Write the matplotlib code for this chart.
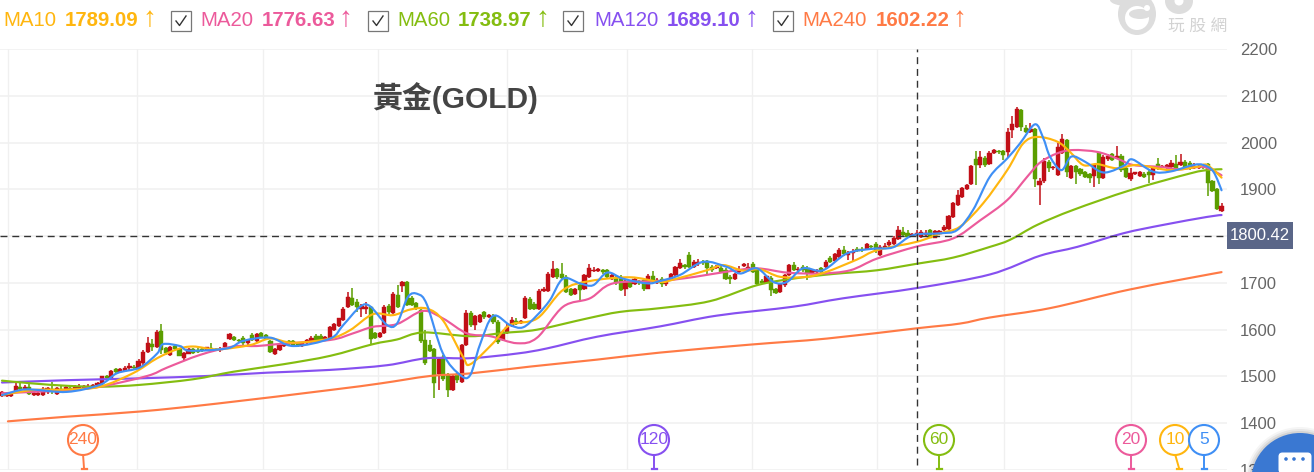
import numpy as np
import matplotlib
matplotlib.use("Agg")
import matplotlib.pyplot as plt
from matplotlib.patches import Circle, Ellipse, FancyBboxPatch, Rectangle, PathPatch
from matplotlib.path import Path
from matplotlib.lines import Line2D
from matplotlib.transforms import IdentityTransform

# candles, one value per bar
opens = [
    1458,1459,1459,1468,1477,1473,1478,1461,1461,1460, 1466,1474,1463,1474,1472,1475,1470,1476,1476,1476,
    1478,1481,1484,1500,1497,1516,1510,1512,1517,1520, 1518,1528,1553,1570,1563,1598,1560,1546,1566,1558,
    1539,1549,1558,1557,1559,1557,1560,1559,1556,1562, 1581,1585,1578,1583,1571,1588,1576,1592,1588,1576,
    1549,1556,1565,1575,1576,1572,1565,1571,1574,1587, 1587,1578,1581,1600,1608,1620,1649,1667,1660,1645,
    1644,1648,1593,1585,1592,1650,1635,1675,1693,1701, 1668,1657,1642,1578,1567,1558,1505,1541,1503,1470,
    1506,1489,1567,1636,1610,1617,1638,1628,1630,1617, 1578,1593,1608,1618,1614,1624,1665,1655,1645,1683,
    1683,1713,1729,1720,1713,1686,1676,1695,1688,1712, 1725,1726,1727,1727,1708,1711,1713,1688,1702,1698,
    1704,1706,1688,1714,1700,1709,1697,1706,1717,1731, 1738,1759,1733,1740,1745,1747,1734,1732,1732,1727,
    1713,1709,1724,1736,1730,1741,1727,1704,1700,1711, 1686,1681,1695,1716,1738,1727,1734,1731,1722,1723,
    1731,1733,1754,1747,1756,1770,1759,1763,1773,1773, 1773,1778,1784,1759,1775,1780,1784,1794,1809,1806,
    1802,1803,1799,1802,1814,1797,1805,1812,1816,1841, 1866,1883,1900,1911,1965,1952,1966,1954,1977,1982,
    1982,1980,2027,2034,2069,2032,2023,2030,1909,1918, 1959,1945,1930,1977,2005,1925,1950,1943,1938,1932,
    1928,1977,1925,1964,1975,1966,1972,1946,1923,1932, 1928,1932,1938,1930,1955,1948,1948,1948,1955,1952,
    1959,1957,1945,1946,1951,1955,1918,1901,1854,
]
closes = [
    1466,1465,1462,1480,1474,1478,1463,1464,1465,1473, 1475,1468,1476,1472,1477,1473,1478,1478,1480,1480,
    1481,1487,1500,1497,1512,1510,1515,1518,1522,1518, 1533,1553,1572,1562,1596,1556,1550,1563,1559,1544,
    1551,1558,1551,1553,1556,1562,1556,1556,1559,1571, 1590,1578,1576,1571,1577,1578,1591,1585,1581,1553,
    1558,1567,1570,1570,1567,1565,1571,1578,1583,1578, 1578,1584,1605,1612,1624,1645,1669,1653,1649,1650,
    1649,1581,1583,1593,1649,1637,1677,1648,1702,1652, 1652,1647,1576,1528,1555,1485,1538,1494,1470,1501,
    1492,1567,1635,1610,1629,1631,1628,1631,1617,1574, 1596,1606,1620,1612,1618,1668,1645,1645,1683,1688,
    1720,1729,1712,1711,1681,1674,1688,1685,1717,1731, 1727,1729,1724,1712,1716,1700,1685,1704,1692,1709,
    1699,1686,1714,1702,1707,1697,1707,1718,1733,1743, 1733,1733,1745,1745,1742,1731,1727,1735,1724,1709,
    1709,1720,1727,1741,1733,1724,1697,1700,1714,1684, 1679,1697,1716,1738,1727,1730,1727,1722,1728,1725,
    1724,1745,1745,1761,1771,1761,1764,1766,1768,1770, 1784,1777,1770,1777,1778,1788,1797,1813,1802,1799,
    1804,1806,1809,1807,1797,1811,1810,1820,1844,1870, 1888,1902,1909,1950,1951,1970,1952,1977,1985,1980,
    1973,2022,2039,2071,2034,2023,2030,1922,1918,1960, 1945,1947,1991,2007,1938,1950,1938,1932,1927,1924,
    1952,1925,1970,1972,1963,1971,1941,1927,1934,1936, 1937,1927,1930,1946,1945,1950,1951,1957,1945,1959,
    1948,1945,1950,1950,1947,1913,1897,1858,1864,
]
highs = [
    1468,1467,1463,1485,1488,1482,1484,1466,1466,1478, 1478,1489,1478,1479,1480,1482,1481,1484,1482,1484,
    1483,1488,1502,1504,1514,1518,1518,1522,1528,1525, 1537,1556,1585,1581,1600,1613,1563,1566,1570,1560,
    1553,1560,1561,1560,1562,1564,1572,1561,1562,1573, 1593,1587,1580,1587,1580,1592,1593,1595,1590,1578,
    1560,1570,1572,1577,1578,1574,1573,1581,1586,1590, 1590,1586,1608,1615,1626,1648,1680,1690,1665,1655,
    1660,1650,1595,1596,1652,1655,1680,1695,1704,1703, 1672,1660,1645,1600,1577,1560,1540,1545,1508,1503,
    1510,1570,1642,1640,1632,1633,1640,1634,1634,1620, 1600,1612,1628,1624,1621,1671,1670,1660,1686,1692,
    1724,1747,1732,1742,1716,1690,1690,1700,1720,1741, 1735,1732,1730,1730,1720,1714,1716,1707,1705,1712,
    1707,1708,1719,1726,1710,1712,1708,1721,1736,1752, 1741,1767,1748,1752,1749,1750,1738,1738,1736,1732,
    1716,1722,1737,1743,1743,1744,1730,1708,1716,1714, 1689,1700,1718,1741,1745,1734,1738,1736,1730,1729,
    1734,1748,1757,1764,1774,1778,1768,1772,1776,1776, 1786,1781,1788,1780,1785,1791,1800,1821,1819,1812,
    1806,1813,1812,1814,1815,1813,1812,1824,1846,1873, 1898,1906,1912,1952,1982,1982,1971,1982,1986,1984,
    1985,2031,2056,2075,2072,2037,2042,2032,1925,1966, 1963,1950,2000,2018,2008,1953,1953,1946,1940,1935,
    1955,1979,1973,1976,1977,1992,1975,1948,1945,1938, 1940,1936,1941,1950,1966,1953,1955,1962,1973,1975,
    1962,1960,1956,1954,1954,1957,1920,1903,1870,
]
lows = [
    1455,1456,1457,1466,1470,1470,1460,1459,1459,1459, 1462,1462,1461,1470,1468,1472,1469,1473,1472,1473,
    1476,1478,1482,1492,1494,1505,1508,1510,1512,1515, 1515,1525,1550,1555,1560,1548,1545,1544,1556,1543,
    1535,1547,1549,1551,1553,1555,1553,1554,1553,1558, 1578,1575,1573,1566,1568,1575,1572,1583,1578,1551,
    1546,1554,1562,1566,1564,1562,1562,1569,1572,1576, 1576,1575,1579,1598,1606,1618,1647,1650,1638,1628,
    1634,1569,1580,1582,1590,1634,1633,1646,1681,1650, 1650,1643,1571,1525,1553,1453,1470,1490,1457,1468,
    1485,1486,1565,1605,1600,1615,1622,1625,1613,1570, 1575,1590,1605,1610,1612,1622,1643,1642,1643,1680,
    1680,1710,1708,1708,1678,1672,1674,1663,1685,1710, 1723,1724,1720,1708,1706,1696,1682,1672,1690,1695,
    1696,1683,1686,1700,1698,1692,1694,1704,1715,1729, 1730,1731,1731,1737,1738,1720,1724,1729,1722,1706,
    1697,1707,1722,1734,1727,1722,1694,1698,1698,1672, 1677,1678,1692,1714,1725,1722,1724,1706,1719,1719,
    1720,1730,1743,1745,1754,1758,1750,1745,1765,1767, 1771,1772,1763,1757,1772,1777,1780,1791,1800,1797,
    1799,1800,1796,1800,1795,1795,1803,1810,1814,1839, 1864,1881,1898,1909,1909,1945,1948,1952,1976,1976,
    1962,1970,2010,2032,2024,2020,2020,1905,1866,1914, 1938,1942,1928,1975,1927,1923,1911,1929,1925,1914,
    1905,1911,1922,1960,1960,1964,1938,1925,1918,1930, 1926,1924,1913,1921,1942,1946,1944,1946,1943,1950,
    1945,1942,1943,1944,1944,1886,1895,1856,1852,
]

# moving averages, bar number then price
ma5_bar = [0,4,6.8,14.3,21.5,25.3,30.3,34.1,35.4,39.1,41.3,49.5,53,58.9,64,72.1,75,78.7,80.9,84.6,86.8,89.2,91.4,93.4,96.9,100.7,102.9,105,107.9,111.6,114.5,117.6,120.4,123.3,127,129.9,133,136.5,141.8,144.6,149,154.1,159.3,162.2,165.9,169.5,172.5,176,180.4,185.7,191.4,195.8,200.2,206.2,209.9,213.4,217.1,220.9,223.7,227,228.8,230.3,232.8,235,238,241.3,243.5,246.8,248.4,252.9,256.7,261.8,264,266.2,268]
ma5_val = [1460,1471,1472,1467,1482,1507,1519,1549,1569,1565,1555,1560,1576,1583,1565,1581,1610,1649,1650,1610,1613,1670,1676,1653,1549,1503,1503,1567,1629,1610,1605,1631,1663,1709,1699,1695,1722,1709,1699,1704,1717,1745,1734,1720,1731,1702,1702,1731,1727,1763,1773,1776,1802,1806,1813,1856,1927,1966,1998,2039,2010,1970,1941,1970,1959,1938,1938,1952,1964,1938,1938,1952,1952,1938,1898]
ma10_bar = [0,6.8,14.3,21.5,28.8,34.1,38.5,42,47.3,54.5,58.9,64,72.1,76.5,81.5,85.9,89.7,93.4,96.9,101.3,102.9,107.9,111.6,117.6,123.3,129.2,138,144.6,147.5,154.9,158.5,162.9,166.6,171,176.9,181.3,187.9,192.3,201.1,206.2,210.5,215.6,220.9,224.4,227.5,231.9,234.7,237.6,240.7,245,249.5,256.7,262.6,264.8,268]
ma10_val = [1460,1471,1472,1478,1507,1539,1558,1564,1558,1567,1581,1572,1581,1599,1633,1631,1643,1645,1620,1542,1526,1571,1610,1624,1685,1704,1712,1702,1707,1727,1738,1726,1729,1713,1713,1724,1750,1770,1788,1806,1820,1870,1941,1998,2012,2002,1980,1952,1954,1945,1952,1941,1948,1952,1925]
ma20_bar = [0,6.8,14.3,21.5,31.9,36.3,43.5,50.8,56,60.4,72.1,77.1,81.5,86.8,92.5,96.9,102.2,107.3,113.2,117.6,123.3,129.2,134.3,144.6,152.3,159.3,165.9,172.5,179.8,186.4,192.3,201.1,209,215,220.9,225.3,228.1,231.9,235.4,240.7,245,248.6,254.5,258.9,264,268]
ma20_val = [1464,1467,1471,1478,1501,1519,1546,1564,1565,1569,1578,1592,1606,1612,1640,1624,1592,1586,1571,1583,1649,1667,1699,1704,1713,1724,1731,1722,1720,1727,1752,1778,1795,1834,1877,1927,1957,1977,1984,1980,1966,1952,1948,1943,1948,1930]
ma60_bar = [0,6.8,14.3,21.5,30.3,42,50.8,61.8,72.1,81.5,86.8,92.5,102.9,110.1,117.6,128.6,135.8,144.6,155.6,165.9,173.8,182.6,192.3,201.1,209,217.1,221.5,227.5,235.4,247.9,261.1,264.8,268]
ma60_val = [1491,1485,1480,1478,1482,1494,1510,1526,1544,1569,1579,1594,1586,1593,1600,1624,1638,1646,1661,1695,1709,1719,1727,1741,1754,1777,1792,1824,1856,1898,1934,1941,1943]
ma120_bar = [0,14.3,30.3,45.1,58.2,72.1,84.6,93.4,102.9,113.2,119.8,130.8,144.6,157.1,173.8,184.8,201.1,217.1,228.1,236.3,246.4,255.2,264.8,268]
ma120_val = [1487,1492,1496,1501,1508,1514,1524,1539,1539,1549,1560,1585,1607,1630,1649,1667,1689,1718,1758,1777,1806,1824,1841,1845]
ma240_bar = [1.3,14.3,30.3,47.3,72.1,83.1,94.1,102.9,116,130.8,144.6,164.4,181.3,201.1,210.5,217.1,230.3,247.9,268]
ma240_val = [1404,1414,1425,1442,1471,1485,1501,1506.5,1521,1536,1551,1568,1581,1603,1613,1626,1646,1686,1723]

y_ticks = [1300,1400,1500,1600,1700,1800,1900,2000,2100,2200]
y_labels = ["1300","1400","1500","1600","1700","","1900","2000","2100","2200"]
grid_bars = [1.3,29.7,57.4,82.6,111,137.4,164.8,192.3,220.2,248.2]
cross_bar = 201.1
cross_price = 1800.42

legend_names = ["MA10","MA20","MA60","MA120","MA240"]
legend_values = ["1789.09","1776.63","1738.97","1689.10","1602.22"]
pin_labels = ["240","120","60","20","10","5"]

RED = "#c10f17"
GREEN = "#5b9e00"
C5 = "#3f8ff5"
C10 = "#ffb60f"
C20 = "#ec5a9b"
C60 = "#84bd10"
C120 = "#8650f0"
C240 = "#ff7a45"

W, H = 1314, 472
plt.rcParams['font.family'] = ['Liberation Sans', 'Noto Sans CJK TC', 'DejaVu Sans']

fig = plt.figure(figsize=(W / 100, H / 100), dpi=100)
ax = fig.add_axes([0, 2 / H, 1227 / W, 421 / H])
ax.set_xlim(-0.44, 269.2)
ax.set_ylim(1300, 2200)
for s in ax.spines.values():
    s.set_visible(False)

ax.yaxis.tick_right()
ax.set_yticks(y_ticks, y_labels)
ax.set_xticks([])
ax.tick_params(axis='y', length=0, pad=9.5, labelsize=12, labelcolor="#666666")
ax.grid(axis='y', color="#f0f0f0", lw=1.1, zorder=0)
for b in grid_bars:
    ax.axvline(b, color="#f0f0f0", lw=1.0, zorder=0)

# candles
x = np.arange(len(closes))
o = np.array(opens, dtype=float)
c = np.array(closes, dtype=float)
up = c >= o
colors = np.where(up, RED, GREEN)
ax.vlines(x, lows, highs, colors=colors, lw=1.1, zorder=2)
ax.bar(x, np.abs(c - o), bottom=np.minimum(o, c), width=0.92, color=colors, ec=colors, lw=0.3, zorder=3)


def smooth_line(bars, vals, col):
    # same look as the web chart: curve through the read points
    p = np.column_stack([bars, vals]).astype(float)
    tang = np.zeros_like(p)
    tang[1:-1] = (p[2:] - p[:-2]) / 6
    verts = [p[0]]
    codes = [Path.MOVETO]
    for i in range(len(p) - 1):
        verts += [p[i] + tang[i], p[i + 1] - tang[i + 1], p[i + 1]]
        codes += [Path.CURVE4] * 3
    ax.add_patch(PathPatch(Path(verts, codes), fill=False, ec=col, lw=1.55, zorder=4,
                           joinstyle='round', capstyle='round'))


# moving averages
smooth_line(ma240_bar, ma240_val, C240)
smooth_line(ma120_bar, ma120_val, C120)
smooth_line(ma60_bar, ma60_val, C60)
smooth_line(ma20_bar, ma20_val, C20)
smooth_line(ma10_bar, ma10_val, C10)
smooth_line(ma5_bar, ma5_val, C5)

# crosshair
ax.plot([cross_bar, cross_bar], [1310, 2200], color="#333333", lw=1.0, dashes=(5, 3.5), zorder=5)
ax.plot([-0.44, 269.2], [cross_price, cross_price], color="#333333", lw=1.0, dashes=(5, 3.5), zorder=5)

px = IdentityTransform()


def put_text(xp, yp, s, **kw):
    fig.text(xp, H - yp, s, transform=px, va=kw.pop('va', 'center'), **kw)


def put(patch):
    patch.set_transform(px)
    fig.add_artist(patch)


# crosshair price box
put(Rectangle((1227, H - 249), 66, 27, fc="#5a6688", ec="none", zorder=6))
put_text(1260, 236, f"{cross_price:.2f}", color="white", fontsize=12, ha='center', zorder=7)

# title
put_text(372, 98, "黃金(GOLD)", color="#444444", fontsize=21.5, fontweight='bold', zorder=7)

# legend row across the top
name_x = [3, 200, 397, 594, 802]
value_x = [65, 262, 458, 667, 876]
arrow_x = [149, 345, 542, 751, 959]
box_x = [None, 171, 368, 563, 773]
leg_colors = [C10, C20, C60, C120, C240]
for i in range(5):
    put_text(name_x[i], 21, legend_names[i], color=leg_colors[i], fontsize=14.7)
    put_text(value_x[i], 21, legend_values[i], color=leg_colors[i], fontsize=14.7, fontweight='bold')
    put_text(arrow_x[i], 19, "↑", color=leg_colors[i], fontsize=20, ha='center')
    if box_x[i] is not None:
        bx = box_x[i]
        put(Rectangle((bx, H - 31), 20, 20, fc="white", ec="#777777", lw=0.9))
        fig.add_artist(Line2D([bx + 5, bx + 8.5, bx + 15], [H - 21, H - 25.5, H - 16], color="#333333",
                              lw=1.0, transform=px))

# watermark
wm = "#dddddd"
put(Ellipse((1137, H - 14), 38, 42, fc=wm, ec="none"))
put(Ellipse((1137, H - 18), 24, 24, fc="white", ec="none"))
put(Ellipse((1140, H - 14), 22, 10, fc=wm, ec="none"))
put(Ellipse((1147, H - 8), 6, 6, fc="white", ec="none"))
put(Ellipse((1128, H - 0), 36, 12, fc=wm, ec="none"))
put(Ellipse((1179, H - 1), 28, 26, fc=wm, ec="none"))
put(Ellipse((1179, H - 1), 9, 9, fc="white", ec="none"))
put_text(1198, 26, "玩 股 網", color="#d2d2d2", fontsize=12, ha='center')

# period pins along the bottom
pin_x = [83, 654, 939, 1131, 1175, 1204]
pin_foot = [84, 654, 939, 1131, 1179, 1204]
pin_colors = [C240, C120, C60, C20, C10, C5]
for lab, xp, foot, col in zip(pin_labels, pin_x, pin_foot, pin_colors):
    fig.add_artist(Line2D([xp, foot], [H - 454, H - 468], color=col, lw=1.4, transform=px, zorder=6))
    fig.add_artist(Line2D([foot - 2.5, foot + 2.5], [H - 469, H - 469], color=col, lw=1.6, transform=px, zorder=6))
    put(Circle((xp, H - 440), 15, fc="white", ec=col, lw=1.5, zorder=6))
    put_text(xp, 440, lab, color=col, fontsize=12.5, ha='center', zorder=7)

# chat button, bottom right corner
for r, a in [(55, 0.04), (53, 0.06), (51, 0.08)]:
    put(Circle((1300, H - 482), r, fc="#000000", ec="none", alpha=a, zorder=8))
put(Circle((1300, H - 482), 49, fc="#3a78d2", ec="none", zorder=9))
put(FancyBboxPatch((1280, H - 472), 30, 18, boxstyle="round,pad=1.5,rounding_size=4", fc="white", ec="none", zorder=10))
for dx_ in [1286, 1294, 1303]:
    put(Circle((dx_, H - 459), 1.8, fc="#3a78d2", ec="none", zorder=11))

fig.savefig("out.png", dpi=100, facecolor="white")
